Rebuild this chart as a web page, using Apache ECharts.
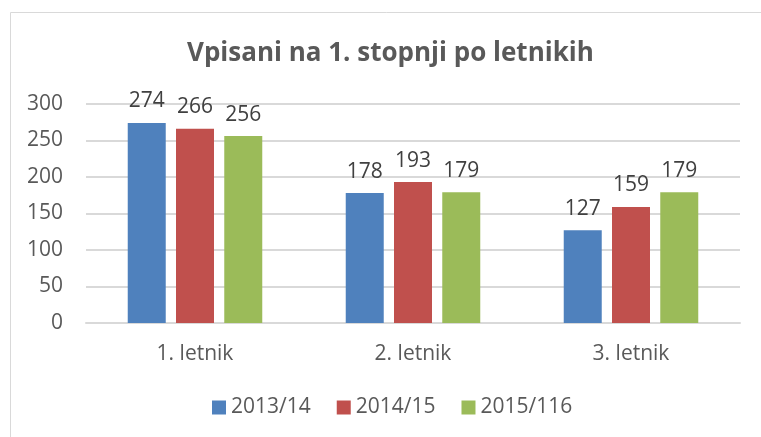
<!DOCTYPE html>
<html>
<head>
<meta charset="utf-8">
<script src="https://cdn.jsdelivr.net/npm/echarts@6/dist/echarts.min.js"></script>
<style>
  html, body { margin: 0; padding: 0; background: #fff; }
  #chart { width: 761px; height: 437px; }
</style>
</head>
<body>
<div id="chart"></div>
<script>
const categories = ["1. letnik", "2. letnik", "3. letnik"];
const seriesNames = ["2013/14", "2014/15", "2015/116"];
const values2013 = [274, 178, 127];
const values2014 = [266, 193, 159];
const values2015 = [256, 179, 179];
const colors = ["#4F81BD", "#C0504D", "#9BBB59"];

const font = "'Open Sans', sans-serif";
const allValues = [values2013, values2014, values2015];

const chart = echarts.init(document.getElementById("chart"));
chart.setOption({
  animation: false,
  textStyle: { fontFamily: font },
  graphic: [{
    type: "rect",
    shape: { x: 10.5, y: 12.5, width: 800, height: 500 },
    style: { fill: "none", stroke: "#D9D9D9", lineWidth: 1 },
    silent: true
  }],
  title: {
    text: "Vpisani na 1. stopnji po letnikih",
    left: 182,
    top: 36,
    textStyle: { fontFamily: font, fontSize: 26, fontWeight: "bold", color: "#595959" }
  },
  legend: {
    data: seriesNames,
    bottom: 14,
    left: 207,
    itemWidth: 14,
    itemHeight: 14,
    itemGap: 26,
    icon: "rect",
    textStyle: { fontFamily: font, fontSize: 21, color: "#595959" }
  },
  grid: { left: 86, right: 21, top: 104, bottom: 114, containLabel: false },
  xAxis: {
    type: "category",
    data: categories,
    axisLine: { lineStyle: { color: "#D9D9D9", width: 2 } },
    axisTick: { show: false },
    axisLabel: { fontSize: 21, color: "#595959", margin: 21 }
  },
  yAxis: {
    type: "value",
    min: 0,
    max: 300,
    interval: 50,
    axisLine: { show: false },
    axisTick: { show: false },
    splitLine: { lineStyle: { color: "#D9D9D9", width: 2 } },
    axisLabel: { fontSize: 21, color: "#595959", margin: 23 }
  },
  series: seriesNames.map((name, i) => ({
    name: name,
    type: "bar",
    data: allValues[i],
    barWidth: 38,
    barGap: "27%",
    itemStyle: { color: colors[i] },
    label: {
      show: true,
      position: "top",
      distance: 11,
      fontSize: 21,
      color: "#404040",
      fontFamily: font
    }
  }))
});
</script>
</body>
</html>
